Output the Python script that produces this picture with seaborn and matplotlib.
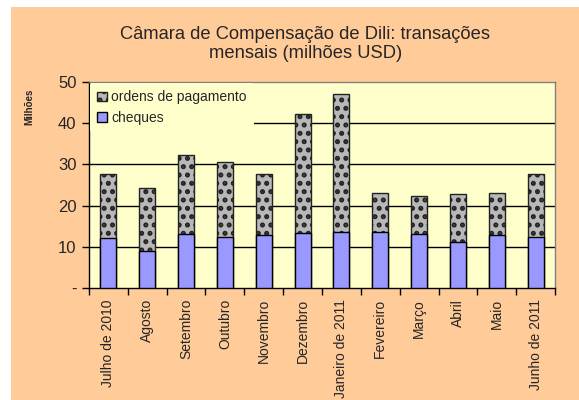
import matplotlib
matplotlib.use("Agg")
import matplotlib.pyplot as plt
import seaborn as sns
import numpy as np
import pandas as pd
from matplotlib.patches import Rectangle, Patch

# ==========================================
# Data (milhões USD)
# ==========================================
meses = ["Julho de 2010", "Agosto", "Setembro", "Outubro", "Novembro",
         "Dezembro", "Janeiro de 2011", "Fevereiro", "Março", "Abril",
         "Maio", "Junho de 2011"]
cheques = [12.2, 9.1, 13.0, 12.5, 12.9, 13.3, 13.5, 13.5, 13.0, 11.1, 12.9, 12.3]
ordens = [15.5, 15.2, 19.3, 18.1, 14.8, 28.9, 33.6, 9.5, 9.3, 11.6, 10.1, 15.3]

df = pd.DataFrame({"mes": meses, "cheques": cheques, "ordens": ordens})
df["total"] = df["cheques"] + df["ordens"]

# ==========================================
# Style
# ==========================================
sns.set_style("white")
plt.rcParams["font.family"] = ["Liberation Sans", "DejaVu Sans"]
plt.rcParams["hatch.linewidth"] = 2.4

orange = "#FFCC99"
plot_bg = "#FFFFCC"
purple = "#9999FF"

fig = plt.figure(figsize=(5.79, 4.0), dpi=100, facecolor="white")
fig.patches.append(Rectangle((11 / 579, 0), 1 - 11 / 579, 1 - 7 / 400,
                             transform=fig.transFigure, facecolor=orange,
                             edgecolor="none", zorder=-5))

ax = fig.add_axes([89 / 579, 112 / 400, (555 - 89) / 579, (288 - 82) / 400])
ax.set_facecolor(plot_bg)
ax.set_zorder(2)

# stacked bars: total (hatched) first, cheques on top of it
sns.barplot(data=df, x="mes", y="total", color="#B8B8B8", width=0.41,
            edgecolor="#222222", linewidth=1.0, hatch="..", saturation=1,
            ax=ax, zorder=3)
sns.barplot(data=df, x="mes", y="cheques", color=purple, width=0.41,
            edgecolor="black", linewidth=1.0, saturation=1, ax=ax, zorder=4)
for p in ax.patches[len(meses):]:
    p.set_hatch(None)

# ==========================================
# Axes
# ==========================================
ax.set_ylim(0, 50)
ax.set_xlim(-0.5, len(meses) - 0.5)
ax.set_yticks([0, 10, 20, 30, 40, 50])
ax.set_yticklabels(["-", "10", "20", "30", "40", "50"], fontsize=12)
for y in [10, 20, 30, 40]:
    ax.axhline(y, color="black", linewidth=1.0, zorder=1)

ax.set_xticks(range(len(meses)))
ax.set_xticklabels(meses, rotation=90, fontsize=10)
ax.set_xticks(np.arange(-0.5, len(meses), 1), minor=True)
ax.tick_params(axis="x", which="major", length=0, pad=8)
ax.tick_params(axis="x", which="minor", length=5, width=1, color="black",
               direction="out", bottom=True)
ax.tick_params(axis="y", length=5, width=1, color="black", direction="out",
               left=True, pad=4)

for s in ["left", "bottom"]:
    ax.spines[s].set_color("black")
    ax.spines[s].set_linewidth(1.0)
for s in ["top", "right"]:
    ax.spines[s].set_color("#808080")
    ax.spines[s].set_linewidth(1.0)

ax.set_xlabel("")
ax.set_ylabel("Milhões", fontsize=7, fontweight="bold", va="center")
ax.yaxis.set_label_coords(-0.127, 0.88)

# ==========================================
# Legend
# ==========================================
handles = [Patch(facecolor="#B8B8B8", edgecolor="#222222", hatch="..",
                 label="ordens de pagamento"),
           Patch(facecolor=purple, edgecolor="black", label="cheques")]
leg = ax.legend(handles=handles, loc="upper left", bbox_to_anchor=(0, 1),
                fontsize=10, frameon=True, facecolor=plot_bg,
                edgecolor="none", framealpha=1, handlelength=0.7,
                handleheight=0.7, handletextpad=0.3, borderaxespad=0.1,
                labelspacing=0.45, borderpad=0.5)
leg.set_zorder(10)

fig.text(0.527, 0.89, "Câmara de Compensação de Dili: transações\nmensais (milhões USD)",
         ha="center", va="center", fontsize=13.2, linespacing=1.15)

plt.savefig("out.png", dpi=100, facecolor=fig.get_facecolor())
